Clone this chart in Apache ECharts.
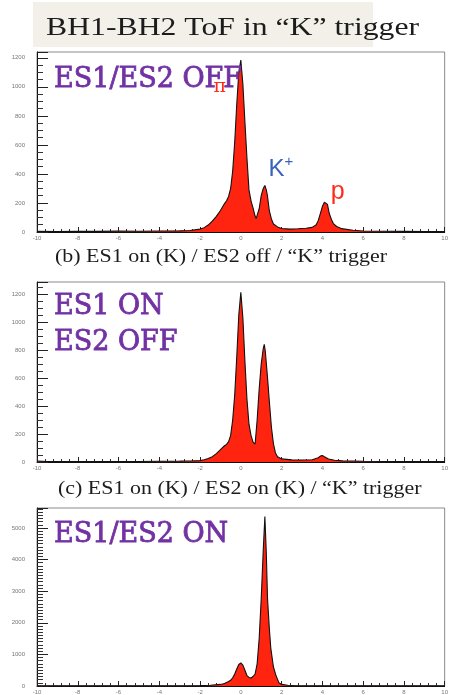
<!DOCTYPE html>
<html>
<head>
<meta charset="utf-8">
<script src="https://cdn.jsdelivr.net/npm/echarts@6/dist/echarts.min.js"></script>
<style>
  html, body { margin: 0; padding: 0; background: #fff; }
  #chart { width: 451px; height: 695px; }
</style>
</head>
<body>
<div id="chart"></div>
<script>
// [ToF (ns), counts]
const esOffHist = [
  [-10, 4], [-9, 3], [-8, 5], [-7, 4], [-6, 6], [-5, 5], [-4, 7], [-3, 8], [-2.5, 10],
  [-2.0, 20], [-1.8, 30], [-1.6, 48], [-1.4, 75], [-1.2, 108], [-1.0, 148], [-0.8, 196],
  [-0.7, 215], [-0.6, 245], [-0.5, 300], [-0.4, 420], [-0.3, 620], [-0.2, 880],
  [-0.1, 1100], [0.0, 1184], [0.1, 1020], [0.2, 760], [0.3, 510], [0.4, 290], [0.5, 215],
  [0.6, 165], [0.7, 110], [0.75, 92], [0.8, 100], [0.9, 160], [1.0, 250], [1.1, 300],
  [1.18, 321], [1.25, 290], [1.3, 255], [1.4, 145], [1.5, 90], [1.6, 55], [1.8, 35],
  [2.0, 24], [2.4, 20], [2.8, 22], [3.2, 26], [3.5, 32], [3.7, 50], [3.8, 80], [3.9, 127],
  [4.0, 175], [4.1, 205], [4.17, 214], [4.25, 190], [4.34, 127], [4.45, 85], [4.54, 58],
  [4.7, 38], [4.95, 23], [5.5, 12], [6, 7], [7, 5], [8, 4], [9, 3], [10, 3]
];
const es1OnHist = [
  [-10, 6], [-9.5, 4], [-9, 3], [-8, 4], [-7, 3], [-6, 4], [-5, 4], [-4, 5], [-3, 6],
  [-2.5, 7], [-2.0, 10], [-1.8, 16], [-1.6, 25], [-1.4, 38], [-1.2, 60], [-1.0, 88],
  [-0.9, 102], [-0.8, 116], [-0.7, 126], [-0.6, 145], [-0.5, 190], [-0.4, 300],
  [-0.3, 480], [-0.2, 750], [-0.1, 1050], [0.0, 1212], [0.1, 1030], [0.2, 720],
  [0.3, 450], [0.4, 270], [0.5, 190], [0.6, 142], [0.7, 128], [0.8, 300], [0.9, 520],
  [1.0, 700], [1.1, 810], [1.15, 840], [1.2, 790], [1.3, 620], [1.4, 430], [1.5, 250],
  [1.6, 130], [1.7, 65], [1.8, 38], [2.0, 22], [2.5, 15], [3.0, 14], [3.5, 16],
  [3.8, 30], [3.9, 42], [4.0, 47], [4.1, 38], [4.3, 22], [4.6, 12], [5.0, 8], [6, 5],
  [7, 4], [8, 3], [9, 3], [10, 3]
];
const bothOnHist = [
  [-10, 5], [-9, 4], [-8, 4], [-7, 4], [-6, 5], [-5, 5], [-4, 6], [-3, 8], [-2.5, 10],
  [-2.0, 12], [-1.5, 25], [-1.0, 50], [-0.8, 80], [-0.6, 140], [-0.5, 180], [-0.4, 260],
  [-0.3, 380], [-0.2, 540], [-0.1, 680], [0.0, 728], [0.1, 660], [0.2, 500], [0.3, 330],
  [0.4, 270], [0.5, 255], [0.6, 300], [0.7, 380], [0.8, 700], [0.9, 1500], [1.0, 2760],
  [1.1, 4300], [1.18, 5360], [1.25, 4200], [1.31, 2760], [1.4, 1800], [1.47, 1200],
  [1.6, 600], [1.71, 360], [1.87, 100], [2.0, 50], [2.3, 25], [2.6, 15], [3, 10],
  [4, 7], [5, 6], [6, 5], [7, 4], [8, 4], [9, 4], [10, 3]
];

const yMax = [1240, 1285, 5630];
const yStep = [200, 200, 1000];
const yMinorSplit = [4, 4, 10];

const titleText = 'BH1-BH2 ToF in “K” trigger';
const captions = ['(b) ES1 on (K) / ES2 off / “K” trigger', '(c) ES1 on (K) / ES2 on (K) / “K” trigger'];
const panelLabels = [['ES1/ES2 OFF'], ['ES1 ON', 'ES2 OFF'], ['ES1/ES2 ON']];

// particle tags on the top panel, in data units
const particleTags = [
  { name: 'pi', coord: [-1.04, 1000] },
  { name: 'K', coord: [1.96, 432] },
  { name: 'p', coord: [4.75, 272] }
];

const hists = [esOffHist, es1OnHist, bothOnHist];
const gridTops = [52, 282, 508];
const PLOT_H = 180;

const chart = echarts.init(document.getElementById('chart'), null, { renderer: 'canvas' });

const grids = gridTops.map(top => ({
  left: 37, right: 1, top, height: PLOT_H,
  show: true, borderColor: '#8a8a8a', borderWidth: 1, backgroundColor: 'transparent'
}));

const xAxes = hists.map((_, i) => ({
  type: 'value', gridIndex: i, min: -10, max: 10, interval: 2,
  axisLine: { onZero: false, lineStyle: { color: '#111', width: 1 } },
  axisTick: { inside: true, length: 5, lineStyle: { color: '#222' } },
  minorTick: { show: true, splitNumber: 5, length: 3, lineStyle: { color: '#333' } },
  splitLine: { show: false },
  axisLabel: { fontSize: 6, color: '#777', margin: 3, fontFamily: 'Liberation Sans' }
}));

const yAxes = hists.map((_, i) => ({
  type: 'value', gridIndex: i, min: 0, max: yMax[i], interval: yStep[i],
  axisLine: { show: true, onZero: false, lineStyle: { color: '#111', width: 1 } },
  axisTick: { inside: true, length: 11, lineStyle: { color: '#222' } },
  minorTick: { show: true, splitNumber: yMinorSplit[i], length: 6, lineStyle: { color: '#333' } },
  splitLine: { show: false },
  axisLabel: {
    fontSize: 6, color: '#777', margin: 12, showMaxLabel: false, fontFamily: 'Liberation Sans',
    formatter: v => String(v)
  }
}));

const series = hists.map((data, i) => {
  const s = {
    type: 'line', xAxisIndex: i, yAxisIndex: i, data,
    symbol: 'none', silent: true, animation: false,
    lineStyle: { color: '#111', width: 1.1 },
    areaStyle: { color: '#ff2410', opacity: 1 },
    z: 2
  };
  if (i === 0) {
    s.markPoint = {
      symbol: 'circle', symbolSize: 1, silent: true, animation: false,
      itemStyle: { color: 'transparent' },
      data: particleTags.map(t => ({
        coord: t.coord,
        label: {
          show: true, position: 'inside',
          formatter: t.name === 'pi' ? '{pi|π}' : t.name === 'K' ? '{k|K}{sup|+}' : '{p|p}',
          rich: {
            pi: { fontFamily: 'DejaVu Serif', fontSize: 19, color: '#ff2a1a' },
            k: { fontFamily: 'Liberation Sans', fontSize: 24, color: '#3a62b8' },
            sup: { fontFamily: 'Liberation Sans', fontSize: 15, color: '#3a62b8', verticalAlign: 'top', padding: [0, 0, 14, 0] },
            p: { fontFamily: 'Liberation Sans', fontSize: 25, color: '#ff2a1a' }
          }
        }
      }))
    };
  }
  return s;
});

const serif = 'Liberation Serif';
const graphic = [
  { type: 'rect', shape: { x: 33, y: 2, width: 340, height: 45 }, style: { fill: '#f2f0e8' }, z: 0 },
  { type: 'text', x: 46, y: 28, scaleX: 1.22, style: { text: titleText, font: '26px ' + serif, fill: '#1c1c1c', verticalAlign: 'middle', align: 'left' }, z: 10 },
  { type: 'text', x: 55, y: 257, scaleX: 1.22, style: { text: captions[0], font: '18px ' + serif, fill: '#1c1c1c', verticalAlign: 'middle', align: 'left' }, z: 10 },
  { type: 'text', x: 58, y: 489, scaleX: 1.22, style: { text: captions[1], font: '18px ' + serif, fill: '#1c1c1c', verticalAlign: 'middle', align: 'left' }, z: 10 }
];

const labelRows = [[80], [307, 343], [535]];
panelLabels.forEach((lines, i) => {
  lines.forEach((txt, j) => {
    graphic.push({
      type: 'text', x: 54, y: labelRows[i][j],
      style: {
        text: txt, font: '27px "DejaVu Serif"', fill: '#7232a4',
        stroke: '#7232a4', lineWidth: 0.8,
        verticalAlign: 'middle', align: 'left'
      },
      z: 5
    });
  });
});

chart.setOption({
  backgroundColor: '#ffffff',
  animation: false,
  grid: grids,
  xAxis: xAxes,
  yAxis: yAxes,
  series,
  graphic
});
</script>
</body>
</html>
